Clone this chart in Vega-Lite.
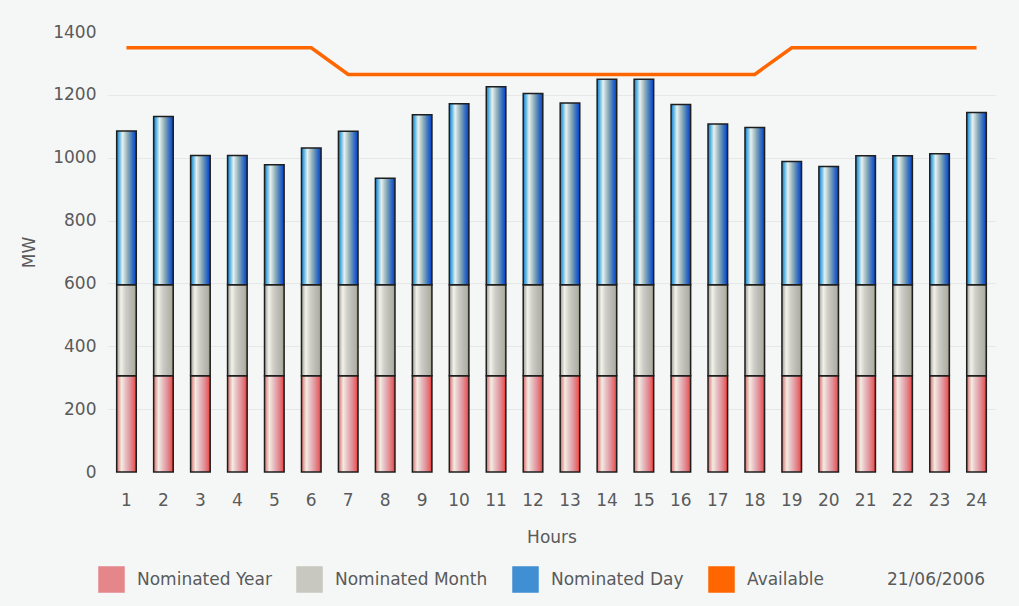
{
  "$schema": "https://vega.github.io/schema/vega-lite/v6.json",
  "width": 887,
  "height": 440,
  "autosize": {"type": "none"},
  "padding": {"left": 108, "top": 32, "right": 24, "bottom": 134},
  "background": "#f5f7f7",
  "config": {"view": {"stroke": null}, "font": "DejaVu Sans"},
  "datasets": {
    "bars": [
      {"hour": 1, "series": "Nominated Year", "value": 306}, {"hour": 1, "series": "Nominated Month", "value": 290}, {"hour": 1, "series": "Nominated Day", "value": 489},
      {"hour": 2, "series": "Nominated Year", "value": 306}, {"hour": 2, "series": "Nominated Month", "value": 290}, {"hour": 2, "series": "Nominated Day", "value": 535},
      {"hour": 3, "series": "Nominated Year", "value": 306}, {"hour": 3, "series": "Nominated Month", "value": 290}, {"hour": 3, "series": "Nominated Day", "value": 411},
      {"hour": 4, "series": "Nominated Year", "value": 306}, {"hour": 4, "series": "Nominated Month", "value": 290}, {"hour": 4, "series": "Nominated Day", "value": 411},
      {"hour": 5, "series": "Nominated Year", "value": 306}, {"hour": 5, "series": "Nominated Month", "value": 290}, {"hour": 5, "series": "Nominated Day", "value": 382},
      {"hour": 6, "series": "Nominated Year", "value": 306}, {"hour": 6, "series": "Nominated Month", "value": 290}, {"hour": 6, "series": "Nominated Day", "value": 435},
      {"hour": 7, "series": "Nominated Year", "value": 306}, {"hour": 7, "series": "Nominated Month", "value": 290}, {"hour": 7, "series": "Nominated Day", "value": 488},
      {"hour": 8, "series": "Nominated Year", "value": 306}, {"hour": 8, "series": "Nominated Month", "value": 290}, {"hour": 8, "series": "Nominated Day", "value": 339},
      {"hour": 9, "series": "Nominated Year", "value": 306}, {"hour": 9, "series": "Nominated Month", "value": 290}, {"hour": 9, "series": "Nominated Day", "value": 541},
      {"hour": 10, "series": "Nominated Year", "value": 306}, {"hour": 10, "series": "Nominated Month", "value": 290}, {"hour": 10, "series": "Nominated Day", "value": 576},
      {"hour": 11, "series": "Nominated Year", "value": 306}, {"hour": 11, "series": "Nominated Month", "value": 290}, {"hour": 11, "series": "Nominated Day", "value": 630},
      {"hour": 12, "series": "Nominated Year", "value": 306}, {"hour": 12, "series": "Nominated Month", "value": 290}, {"hour": 12, "series": "Nominated Day", "value": 608},
      {"hour": 13, "series": "Nominated Year", "value": 306}, {"hour": 13, "series": "Nominated Month", "value": 290}, {"hour": 13, "series": "Nominated Day", "value": 578},
      {"hour": 14, "series": "Nominated Year", "value": 306}, {"hour": 14, "series": "Nominated Month", "value": 290}, {"hour": 14, "series": "Nominated Day", "value": 654},
      {"hour": 15, "series": "Nominated Year", "value": 306}, {"hour": 15, "series": "Nominated Month", "value": 290}, {"hour": 15, "series": "Nominated Day", "value": 654},
      {"hour": 16, "series": "Nominated Year", "value": 306}, {"hour": 16, "series": "Nominated Month", "value": 290}, {"hour": 16, "series": "Nominated Day", "value": 573},
      {"hour": 17, "series": "Nominated Year", "value": 306}, {"hour": 17, "series": "Nominated Month", "value": 290}, {"hour": 17, "series": "Nominated Day", "value": 511},
      {"hour": 18, "series": "Nominated Year", "value": 306}, {"hour": 18, "series": "Nominated Month", "value": 290}, {"hour": 18, "series": "Nominated Day", "value": 500},
      {"hour": 19, "series": "Nominated Year", "value": 306}, {"hour": 19, "series": "Nominated Month", "value": 290}, {"hour": 19, "series": "Nominated Day", "value": 392},
      {"hour": 20, "series": "Nominated Year", "value": 306}, {"hour": 20, "series": "Nominated Month", "value": 290}, {"hour": 20, "series": "Nominated Day", "value": 376},
      {"hour": 21, "series": "Nominated Year", "value": 306}, {"hour": 21, "series": "Nominated Month", "value": 290}, {"hour": 21, "series": "Nominated Day", "value": 410},
      {"hour": 22, "series": "Nominated Year", "value": 306}, {"hour": 22, "series": "Nominated Month", "value": 290}, {"hour": 22, "series": "Nominated Day", "value": 410},
      {"hour": 23, "series": "Nominated Year", "value": 306}, {"hour": 23, "series": "Nominated Month", "value": 290}, {"hour": 23, "series": "Nominated Day", "value": 417},
      {"hour": 24, "series": "Nominated Year", "value": 306}, {"hour": 24, "series": "Nominated Month", "value": 290}, {"hour": 24, "series": "Nominated Day", "value": 548}
    ],
    "avail": [
      {"hour": 1, "value": 1350}, {"hour": 2, "value": 1350}, {"hour": 3, "value": 1350}, {"hour": 4, "value": 1350},
      {"hour": 5, "value": 1350}, {"hour": 6, "value": 1350}, {"hour": 7, "value": 1265}, {"hour": 8, "value": 1265},
      {"hour": 9, "value": 1265}, {"hour": 10, "value": 1265}, {"hour": 11, "value": 1265}, {"hour": 12, "value": 1265},
      {"hour": 13, "value": 1265}, {"hour": 14, "value": 1265}, {"hour": 15, "value": 1265}, {"hour": 16, "value": 1265},
      {"hour": 17, "value": 1265}, {"hour": 18, "value": 1265}, {"hour": 19, "value": 1350}, {"hour": 20, "value": 1350},
      {"hour": 21, "value": 1350}, {"hour": 22, "value": 1350}, {"hour": 23, "value": 1350}, {"hour": 24, "value": 1350}
    ]
  },
  "encoding": {
    "x": {
      "field": "hour",
      "type": "ordinal",
      "scale": {"paddingInner": 0.47, "paddingOuter": 0.235},
      "axis": {
        "title": "Hours",
        "labelAngle": 0,
        "ticks": false,
        "tickSize": 0,
        "domain": false,
        "grid": false,
        "labelPadding": 20,
        "labelFontSize": 17,
        "labelColor": "#5a5a5a",
        "titleFontSize": 17,
        "titleFontWeight": "normal",
        "titleColor": "#5a5a5a",
        "titlePadding": 21
      }
    }
  },
  "layer": [
    {
      "data": {"name": "bars"},
      "mark": {"type": "bar"},
      "encoding": {
        "y": {
          "field": "value",
          "type": "quantitative",
          "stack": "zero",
          "scale": {"domain": [0, 1400], "nice": false},
          "axis": {
            "title": "MW",
            "format": "d",
            "values": [0, 200, 400, 600, 800, 1000, 1200, 1400],
            "ticks": false,
            "tickSize": 0,
            "domain": false,
            "labelPadding": 12,
            "labelFontSize": 17,
            "labelColor": "#5a5a5a",
            "titleFontSize": 17,
            "titleFontWeight": "normal",
            "titleColor": "#5a5a5a",
            "titlePadding": 14,
            "gridColor": "#e6e8e8",
            "gridOpacity": {"condition": {"test": "datum.value === 0 || datum.value === 1400", "value": 0}, "value": 1}
          }
        },
        "order": {"field": "series", "sort": "descending"},
        "color": {
          "field": "series",
          "type": "nominal",
          "scale": {
            "domain": ["Nominated Year", "Nominated Month", "Nominated Day", "Available", "21/06/2006"],
            "range": ["#e4868a", "#c8c8c0", "#3f8fd2", "#ff6600", "transparent"]
          },
          "legend": {
            "title": null,
            "orient": "none",
            "legendX": -10,
            "legendY": 534,
            "direction": "horizontal",
            "padding": 0,
            "symbolSize": 625,
            "symbolOpacity": 1,
            "labelFontSize": 17,
            "labelColor": "#5a5a5a",
            "labelOffset": 12,
            "labelLimit": 400,
            "columnPadding": 22
          }
        }
      }
    },
    {
      "data": {"name": "bars"},
      "mark": {"type": "bar", "strokeWidth": 1.5, "stroke": "#1e1e1e"},
      "encoding": {
        "y": {"field": "value", "type": "quantitative", "stack": "zero"},
        "order": {"field": "series", "sort": "descending"},
        "fill": {
          "condition": [
            {"test": "datum.series === 'Nominated Year'", "value": {"gradient": "linear", "x1": 0, "y1": 0, "x2": 1, "y2": 0, "stops": [{"offset": 0, "color": "#d86a6a"}, {"offset": 0.25, "color": "#f3ece2"}, {"offset": 0.45, "color": "#e8c0c4"}, {"offset": 0.7, "color": "#e09098"}, {"offset": 0.9, "color": "#e86060"}, {"offset": 1, "color": "#f02020"}]}},
            {"test": "datum.series === 'Nominated Month'", "value": {"gradient": "linear", "x1": 0, "y1": 0, "x2": 1, "y2": 0, "stops": [{"offset": 0, "color": "#9c9c94"}, {"offset": 0.22, "color": "#f2f2ea"}, {"offset": 0.45, "color": "#cfcfc8"}, {"offset": 0.7, "color": "#bcbcb6"}, {"offset": 0.9, "color": "#b0b0a4"}, {"offset": 1, "color": "#8a8a70"}]}}
          ],
          "value": {"gradient": "linear", "x1": 0, "y1": 0, "x2": 1, "y2": 0, "stops": [{"offset": 0, "color": "#1878c8"}, {"offset": 0.12, "color": "#50b0e0"}, {"offset": 0.3, "color": "#e8f0f0"}, {"offset": 0.55, "color": "#90b0b8"}, {"offset": 0.8, "color": "#3870c0"}, {"offset": 1, "color": "#0040d0"}]}
        }
      }
    },
    {
      "data": {"name": "avail"},
      "mark": {"type": "line", "strokeWidth": 3.5, "strokeCap": "butt"},
      "encoding": {
        "y": {"field": "value", "type": "quantitative"},
        "color": {"datum": "Available", "type": "nominal"}
      }
    }
  ]
}
